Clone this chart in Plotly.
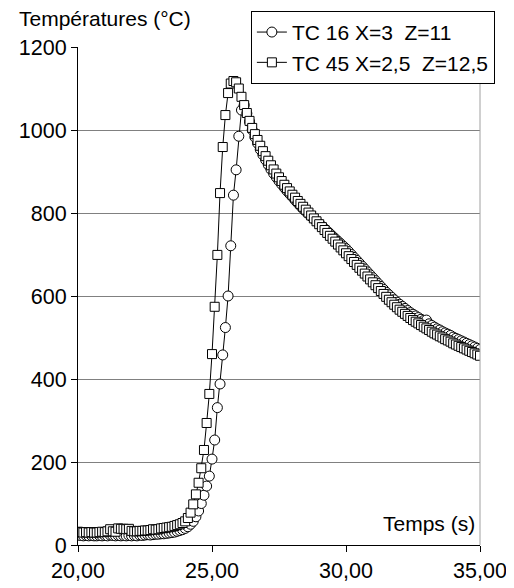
import plotly.graph_objects as go

# sampling grid (s)
time_s = [round(20 + 0.1 * i, 1) for i in range(151)]

tc16_name = "TC 16 X=3\u00a0\u00a0Z=11"
tc45_name = "TC 45 X=2,5\u00a0\u00a0Z=12,5"

tc16 = [
    24, 23, 22, 23, 22, 23, 22, 22, 23, 22,   # 20.0-20.9
    23, 22, 24, 23, 22, 23, 22, 23, 22, 23,   # 21.0-21.9
    22, 23, 22, 24, 23, 24, 25, 24, 25, 26,   # 22.0-22.9
    26, 27, 27, 28, 29, 30, 31, 33, 35, 37,   # 23.0-23.9
    40, 44, 50, 57, 68, 82, 100, 120, 142, 166,   # 24.0-24.9
    207, 253, 331, 388, 458, 524, 600, 721, 843, 904,   # 25.0-25.9
    985, 1048, 1060, 1040, 1020, 1000, 983, 968, 953, 940,   # 26.0-26.9
    928, 916, 905, 895, 886, 877, 869, 861, 853, 846,   # 27.0-27.9
    839, 831, 824, 817, 810, 804, 798, 792, 786, 780,   # 28.0-28.9
    774, 768, 762, 756, 750, 744, 738, 732, 726, 720,   # 29.0-29.9
    714, 707, 700, 693, 686, 679, 672, 665, 658, 651,   # 30.0-30.9
    644, 637, 630, 623, 616, 609, 603, 597, 591, 585,   # 31.0-31.9
    580, 575, 570, 565, 560, 556, 552, 548, 544, 541,   # 32.0-32.9
    542, 533, 529, 525, 521, 518, 514, 511, 508, 505,   # 33.0-33.9
    501, 498, 495, 492, 489, 486, 483, 480, 477, 474,   # 34.0-34.9
    471,                                                # 35.0
]

tc45 = [
    32, 31, 30, 31, 30, 31, 30, 30, 31, 32,   # 20.0-20.9
    31, 33, 38, 33, 32, 40, 39, 39, 38, 39,   # 21.0-21.9
    34, 33, 33, 34, 34, 35, 35, 36, 38, 37,   # 22.0-22.9
    38, 40, 41, 42, 43, 44, 46, 48, 50, 53,   # 23.0-23.9
    57, 65, 78, 98, 122, 150, 185, 229, 294, 364,   # 24.0-24.9
    460, 574, 699, 848, 959, 1036, 1089, 1112, 1118, 1115,   # 25.0-25.9
    1100, 1080, 1060, 1041, 1022, 1005, 990, 976, 962, 949,   # 26.0-26.9
    937, 926, 915, 905, 895, 886, 877, 868, 860, 852,   # 27.0-27.9
    844, 837, 829, 822, 815, 808, 801, 794, 787, 780,   # 28.0-28.9
    773, 766, 759, 752, 745, 738, 731, 724, 717, 710,   # 29.0-29.9
    703, 696, 689, 682, 675, 668, 661, 654, 647, 640,   # 30.0-30.9
    633, 626, 619, 612, 605, 598, 591, 585, 579, 573,   # 31.0-31.9
    567, 562, 557, 552, 547, 542, 538, 534, 530, 526,   # 32.0-32.9
    522, 518, 514, 510, 507, 503, 500, 496, 493, 490,   # 33.0-33.9
    486, 483, 480, 477, 474, 471, 468, 465, 462, 459,   # 34.0-34.9
    456,                                                # 35.0
]

y_ticks = [0, 200, 400, 600, 800, 1000, 1200]
x_ticks = [20, 25, 30, 35]

FONT = "Liberation Sans, Arial, sans-serif"

fig = go.Figure()
fig.add_trace(go.Scatter(
    x=time_s, y=tc16, name=tc16_name, mode="lines+markers",
    line=dict(color="black", width=1),
    marker=dict(symbol="circle", size=10, color="white",
                line=dict(color="black", width=1)),
))
fig.add_trace(go.Scatter(
    x=time_s, y=tc45, name=tc45_name, mode="lines+markers",
    line=dict(color="black", width=1),
    marker=dict(symbol="square", size=9, color="white",
                line=dict(color="black", width=1)),
))

fig.update_layout(
    width=506, height=580,
    margin=dict(l=70, r=34, t=39, b=43, autoexpand=False),
    paper_bgcolor="white", plot_bgcolor="white",
    font=dict(family=FONT, size=21, color="black"),
    separators=",.",
    showlegend=True,
    legend=dict(
        xref="container", yref="container",
        x=0.48, y=0.995, xanchor="left", yanchor="top",
        bgcolor="white", bordercolor="black", borderwidth=1,
        font=dict(family=FONT, size=21, color="black"),
        tracegroupgap=0, itemwidth=30,
    ),
    xaxis=dict(
        range=[20, 35], tickvals=x_ticks, tickformat=".2f",
        showgrid=False, zeroline=False,
        showline=True, linecolor="black", linewidth=1,
        ticks="outside", ticklen=6, tickcolor="black",
        tickfont=dict(size=21.5), automargin=False,
    ),
    yaxis=dict(
        range=[0, 1200], tickvals=y_ticks,
        showgrid=True, gridcolor="#808080", gridwidth=1,
        zeroline=False,
        showline=True, linecolor="black", linewidth=1,
        ticks="outside", ticklen=6, tickcolor="black",
        tickfont=dict(size=21.5), automargin=False,
    ),
    shapes=[dict(type="line", xref="paper", yref="paper",
                 x0=1, x1=1, y0=0, y1=1,
                 line=dict(color="#a0a0a0", width=1))],
    annotations=[
        dict(text="Températures (°C)", xref="paper", yref="paper",
             x=-0.152, y=1.058, xanchor="left", yanchor="middle",
             showarrow=False, font=dict(size=21)),
        dict(text="Temps (s)", xref="paper", yref="paper",
             x=0.992, y=0.044, xanchor="right", yanchor="middle",
             showarrow=False, font=dict(size=21)),
    ],
)

fig.write_html("out.html")
